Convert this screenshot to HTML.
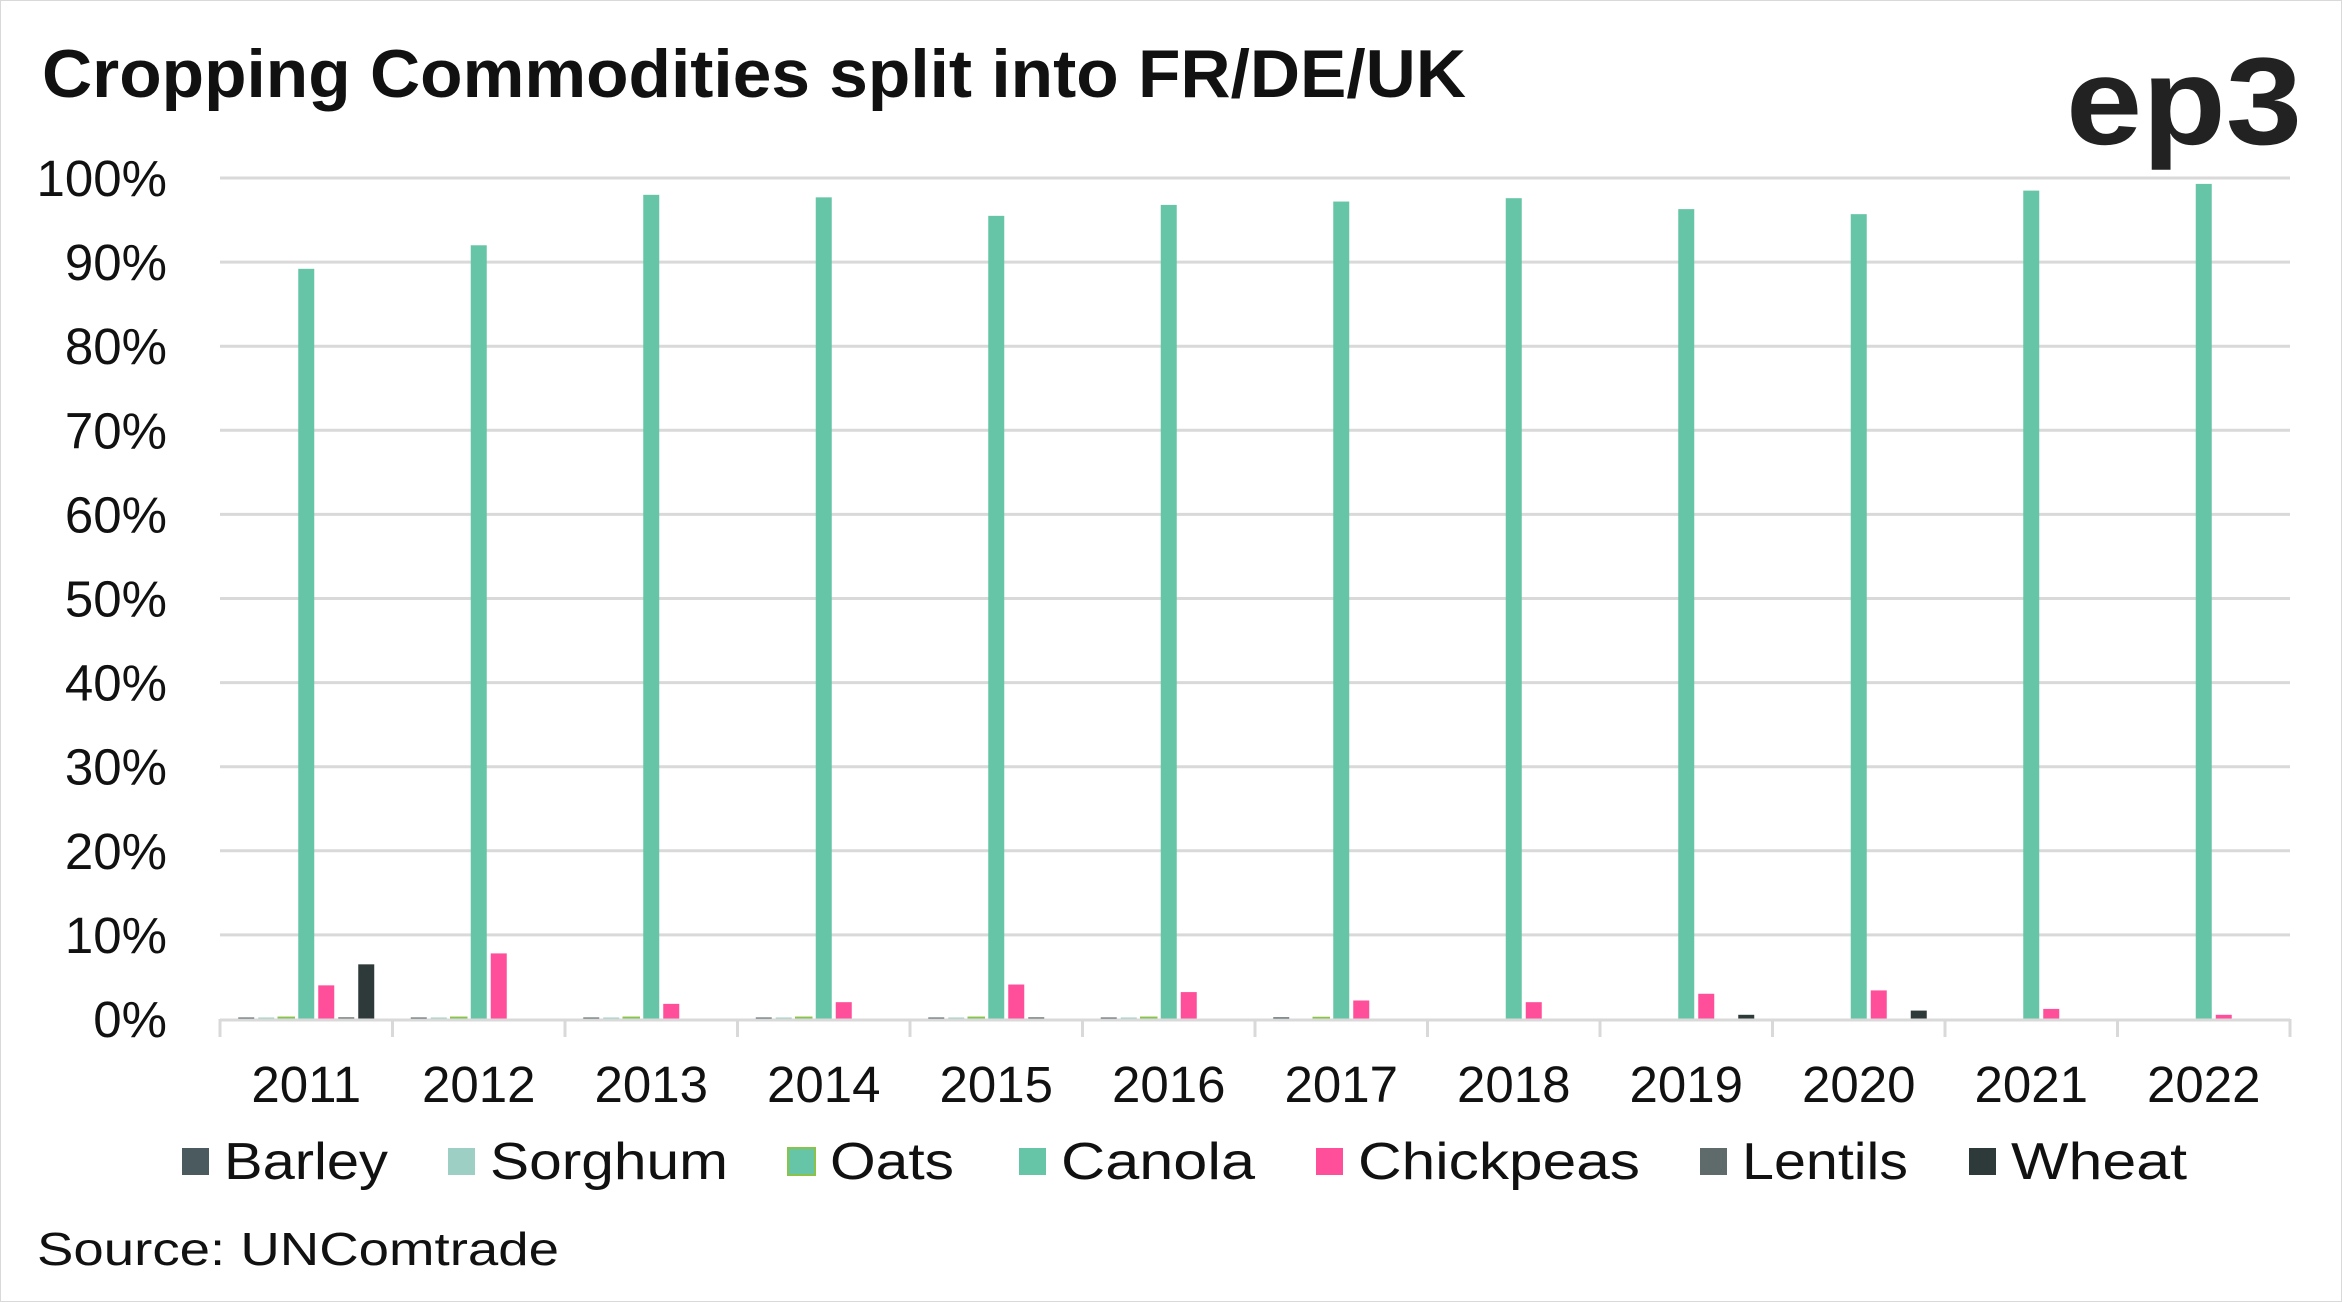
<!DOCTYPE html>
<html><head><meta charset="utf-8"><style>
html,body{margin:0;padding:0;background:#fff}
svg{display:block;font-family:"Liberation Sans",sans-serif}
</style></head><body>
<svg id="chart" width="2342" height="1302" viewBox="0 0 2342 1302">
<rect x="0.5" y="0.5" width="2341" height="1301" fill="#fff" stroke="#d9d9d9"/>
<text x="42" y="97" font-size="68" font-weight="bold" fill="#111" textLength="1424" lengthAdjust="spacingAndGlyphs">Cropping Commodities split into FR/DE/UK</text>
<text x="2066" y="144" font-size="124" font-weight="bold" fill="#222" textLength="236" lengthAdjust="spacingAndGlyphs">ep3</text>
<g id="grid"></g>
<g id="yticks"></g>
<g id="bars"></g>
<g id="xaxis"></g>
<g id="legend"></g>
<text x="37" y="1265" font-size="46" fill="#111" textLength="522" lengthAdjust="spacingAndGlyphs">Source: UNComtrade</text>
</svg>
<script>
const categories=["2011","2012","2013","2014","2015","2016","2017","2018","2019","2020","2021","2022"];
const seriesNames=["Barley","Sorghum","Oats","Canola","Chickpeas","Lentils","Wheat"];
const barley=[0.1,0.1,0.1,0.1,0.1,0.1,0.2,0,0,0,0,0];
const sorghum=[0.1,0.1,0.1,0.1,0.1,0.1,0,0,0,0,0,0];
const oats=[0.2,0.2,0.2,0.2,0.2,0.2,0.1,0,0,0,0,0];
const canola=[89.2,92,98,97.7,95.5,96.8,97.2,97.6,96.3,95.7,98.5,99.3];
const chickpeas=[4,7.8,1.8,2,4.1,3.2,2.2,2,3,3.4,1.2,0.5];
const lentils=[0.2,0,0,0,0.2,0,0,0,0,0,0,0];
const wheat=[6.5,0,0,0,0,0,0,0,0.5,1,0,0];
const yTicks=[0,10,20,30,40,50,60,70,80,90,100];
const yTickLabels=["0%","10%","20%","30%","40%","50%","60%","70%","80%","90%","100%"];

const seriesData=[barley,sorghum,oats,canola,chickpeas,lentils,wheat];
const colors=["#4a5a5e","#9ecfc4","#66c5a6","#66c5a6","#ff4f9a","#5f6b6b","#2e3a3a"];
const NS="http://www.w3.org/2000/svg";
const X0=220,X1=2290,Y0=1019,Y100=178;
const bandW=(X1-X0)/categories.length;
const y=v=>Y0-(Y0-Y100)*v/100;
const x=i=>X0+bandW*i;
function mk(tag,attrs,parent){const e=document.createElementNS(NS,tag);for(const k in attrs)e.setAttribute(k,attrs[k]);parent.appendChild(e);return e;}
const grid=document.getElementById('grid'),yt=document.getElementById('yticks');
yTicks.forEach((t,i)=>{
 if(t>0){const l=mk('line',{x1:X0,x2:X1,y1:y(t),y2:y(t),stroke:'#d9d9d9','stroke-width':3},grid);
 
 }
 const tx=mk('text',{x:167,y:y(t)+18,'text-anchor':'end','font-size':51,fill:'#111'},yt);
 tx.textContent=yTickLabels[i];
 
 
});
const bars=document.getElementById('bars');
const pitch=20,bw=16;
categories.forEach((c,i)=>{
 const cx=x(i)+bandW/2;
 seriesData.forEach((s,j)=>{
  const v=s[i]; if(v<=0)return;
  const bx=cx+(j-3)*pitch-bw/2;
  const h=Math.max(Y0-y(v),1.5);
  const r=mk('rect',{x:bx,y:Y0-h,width:bw,height:h,fill:colors[j]},bars);
  if(j===2){r.setAttribute('stroke','#8bc34a');r.setAttribute('stroke-width',1.5);}
  
  
 });
});
const xa=document.getElementById('xaxis');
const ax=mk('line',{x1:X0,x2:X1,y1:Y0+1,y2:Y0+1,stroke:'#d9d9d9','stroke-width':3},xa);


for(let i=0;i<=categories.length;i++){
 const tk=mk('line',{x1:x(i),x2:x(i),y1:Y0,y2:Y0+18,stroke:'#d9d9d9','stroke-width':3},xa);
 
 
}
categories.forEach((c,i)=>{
 const t=mk('text',{x:x(i)+bandW/2,y:1102,'text-anchor':'middle','font-size':51,fill:'#111'},xa);
 t.textContent=c;
 
 
});
const lg=document.getElementById('legend');
const lx=[182,448,788,1019,1316,1700,1969];
const lw=[164,238,124,194,282,166,176];
seriesNames.forEach((n,j)=>{
 const g=mk('g',{},lg);
 
 
 const r=mk('rect',{x:lx[j],y:1148,width:27,height:27,fill:colors[j]},g);
 if(j===2){r.setAttribute('stroke','#8bc34a');r.setAttribute('stroke-width',2);}
 const t=mk('text',{x:lx[j]+42,y:1179,'font-size':52,fill:'#111',textLength:lw[j],lengthAdjust:'spacingAndGlyphs'},g);
 t.textContent=n;
});
</script>
</body></html>
